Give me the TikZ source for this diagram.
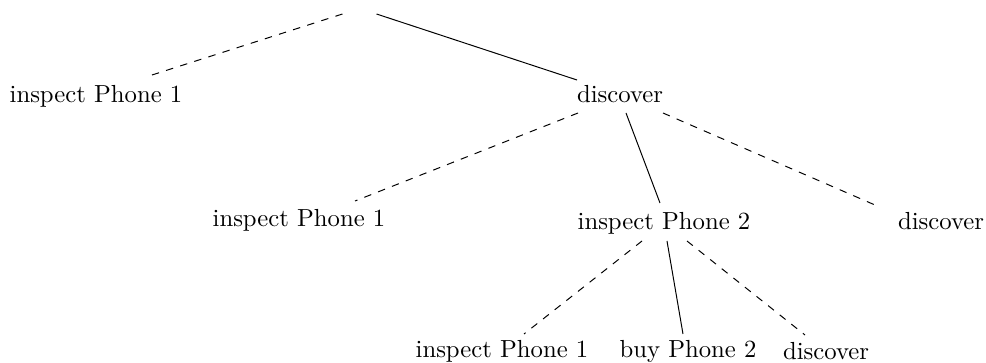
\documentclass[tikz,border=0pt]{standalone}
\usetikzlibrary{calc}
\begin{document}
\begin{tikzpicture}[x=0.4049pt,y=-0.4049pt,
  lbl/.style={inner sep=0pt,anchor=base,font=\normalsize},
  opt/.style={dashed},
  chosen/.style={}]
\useasboundingbox (0,0) rectangle (986,363);
\node[inner sep=0pt,minimum width=13.4pt,minimum height=0pt] (root) at (359.5,14) {};
\node[lbl] (a) at (96,103) {inspect Phone 1};
\node[lbl] (b) at (620,103) {discover};
\node[lbl] (c) at (299,227) {inspect Phone 1};
\node[lbl] (d) at (664,230) {inspect Phone 2};
\node[lbl] (e) at (941,230) {discover};
\node[lbl] (f) at (502,358) {inspect Phone 1};
\node[lbl] (g) at (688,358) {buy Phone 2};
\node[lbl] (h) at (826,360) {discover};
\draw[opt] (root.west) -- ($(a.base)+(56,-28)$);
\draw[chosen] (root.east) -- ($(b.base)+(-43,-23)$);
\draw[opt] ($(b.base)+(-42,10)$) -- ($(c.base)+(56,-26)$);
\draw[chosen] ($(b.base)+(6,10)$) -- ($(d.base)+(-4,-27)$);
\draw[opt] ($(b.base)+(43,10)$) -- ($(e.base)+(-66,-25)$);
\draw[opt] ($(d.base)+(-22,11)$) -- ($(f.base)+(22,-24)$);
\draw[chosen] ($(d.base)+(3,11)$) -- ($(g.base)+(-5,-24)$);
\draw[opt] ($(d.base)+(23,11)$) -- ($(h.base)+(-21,-25)$);
\end{tikzpicture}
\end{document}
